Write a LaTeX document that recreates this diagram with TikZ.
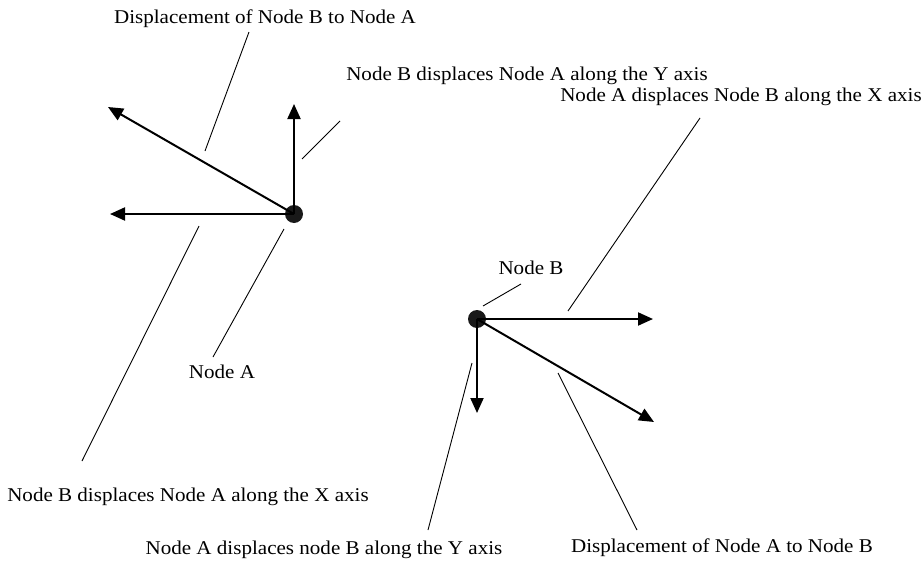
\documentclass[tikz,border=0pt]{standalone}
\usepackage{fontspec}
\setmainfont{Liberation Serif}[FakeStretch=1.08]
\usetikzlibrary{arrows.meta}
\tikzset{
  lbl/.style={font=\fontsize{19.5}{22}\selectfont, inner sep=0pt, anchor=center},
  vec/.style={line width=2pt, -{Triangle[length=15pt,width=13pt]}},
  leader/.style={line width=0.9pt},
  dotnode/.style={circle, fill=black!90, inner sep=0pt, minimum size=18pt}
}
\begin{document}
\begin{tikzpicture}[x=1pt,y=-1pt]
\useasboundingbox (0,0) rectangle (922,565);
% dots
\node[dotnode] (A) at (294,214) {};
\node[dotnode] (B) at (477,319) {};
% arrow tips
\coordinate (Aup) at (294,104);
\coordinate (Aleft) at (110,214);
\coordinate (Aul) at (108,107);
\coordinate (Bright) at (653,319);
\coordinate (Bdr) at (654,422);
\coordinate (Bdown) at (477,413);
\draw[vec] (A.center) -- (Aup);
\draw[vec] (A.center) -- (Aleft);
\draw[vec] (A.center) -- (Aul);
\draw[vec] (B.center) -- (Bright);
\draw[vec] (B.center) -- (Bdr);
\draw[vec] (B.center) -- (Bdown);
% labels
\node[lbl] (l1) at (265,19) {Displacement of Node B to Node A};
\node[lbl] (l2) at (527,76) {Node B displaces Node A along the Y axis};
\node[lbl] (l3) at (741,97) {Node A displaces Node B along the X axis};
\node[lbl] (l4) at (531,268) {Node B};
\node[lbl] (l5) at (222,372) {Node A};
\node[lbl] (l6) at (188,497) {Node B displaces Node A along the X axis};
\node[lbl] (l7) at (324,550) {Node A displaces node B along the Y axis};
\node[lbl] (l8) at (722,548) {Displacement of Node A to Node B};
% leader end points
\coordinate (e1a) at (249,32);  \coordinate (e1b) at (205,151);
\coordinate (e2a) at (340,121); \coordinate (e2b) at (302,159);
\coordinate (e3a) at (700,118); \coordinate (e3b) at (568,311);
\coordinate (e4a) at (521,284); \coordinate (e4b) at (483,306);
\coordinate (e5a) at (213,357); \coordinate (e5b) at (284,229);
\coordinate (e6a) at (82,461);  \coordinate (e6b) at (199,226);
\coordinate (e7a) at (428,530); \coordinate (e7b) at (472,363);
\coordinate (e8a) at (637,530); \coordinate (e8b) at (558,373);
\draw[leader] (e1a) -- (e1b);
\draw[leader] (e2a) -- (e2b);
\draw[leader] (e3a) -- (e3b);
\draw[leader] (e4a) -- (e4b);
\draw[leader] (e5a) -- (e5b);
\draw[leader] (e6a) -- (e6b);
\draw[leader] (e7a) -- (e7b);
\draw[leader] (e8a) -- (e8b);
\end{tikzpicture}
\end{document}
